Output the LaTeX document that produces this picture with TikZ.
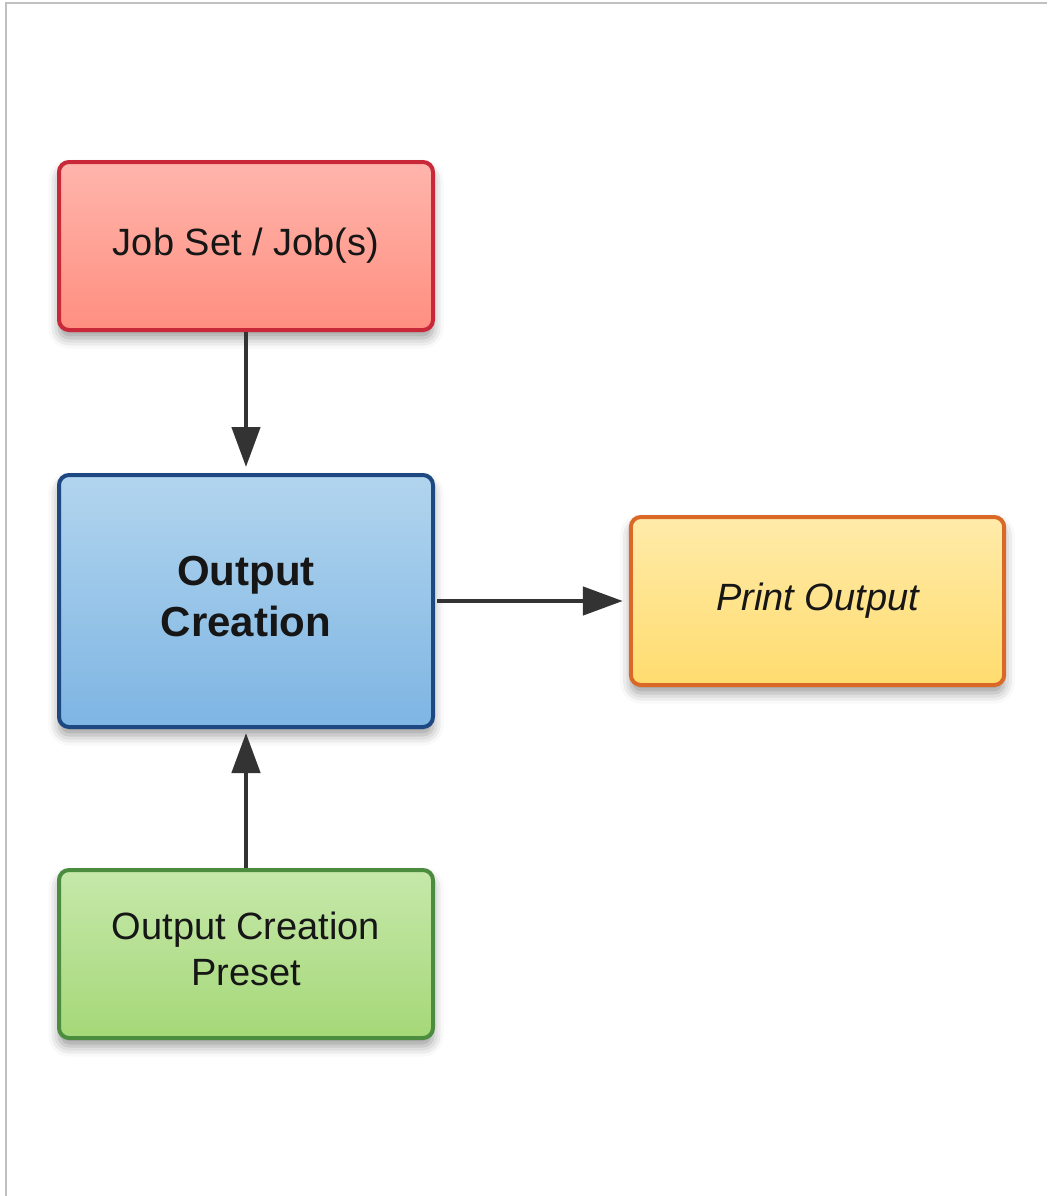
\documentclass[tikz,border=0pt]{standalone}
\usepackage{fontspec}
\setmainfont{Liberation Sans}
\usepackage{xcolor}
\usepackage{tikz}
\usetikzlibrary{arrows.meta,shadows.blur}

\definecolor{jobtop}{RGB}{255,181,172}
\definecolor{jobbot}{RGB}{255,143,128}
\definecolor{jobline}{RGB}{200,40,56}
\definecolor{cretop}{RGB}{178,213,238}
\definecolor{crebot}{RGB}{126,181,227}
\definecolor{creline}{RGB}{30,72,130}
\definecolor{prntop}{RGB}{255,235,170}
\definecolor{prnbot}{RGB}{255,220,110}
\definecolor{prnline}{RGB}{218,105,40}
\definecolor{pretop}{RGB}{198,232,170}
\definecolor{prebot}{RGB}{165,216,120}
\definecolor{preline}{RGB}{76,140,63}
\definecolor{arrgray}{RGB}{51,51,51}
\definecolor{txtgray}{RGB}{22,22,22}
\definecolor{framegray}{RGB}{192,192,192}

\begin{document}
\begin{tikzpicture}[x=0.75pt,y=0.75pt,yscale=-1,xscale=1,
  box/.style={rounded corners=7.5pt, line width=3pt, minimum width=280.5pt, minimum height=126pt,
    align=center, text=txtgray, font=\fontsize{28.5}{34}\selectfont,
    blur shadow={shadow xshift=0pt, shadow yshift=-6pt, shadow blur radius=8pt, shadow opacity=40}},
  conn/.style={line width=3.5pt, draw=arrgray, -{Triangle[length=30pt,width=21pt]}}]
  \useasboundingbox (0,0) rectangle (1047,1196);

  %Frame lines
  \draw [color=framegray, line width=1.5pt] (5.5,1196) -- (5.5,3) -- (1047,3) ;

  %Shape: Job box
  \node [box, draw=jobline, top color=jobtop, bottom color=jobbot] (jobset) at (246,246) {Job Set / Job(s)};
  %Shape: Creation box
  \node [box, draw=creline, top color=cretop, bottom color=crebot, minimum height=189pt,
    text height=52.5pt, text depth=0pt,
    font=\fontsize{31.5}{38}\selectfont\bfseries] (creation) at (246,601) {Output\\Creation};
  %Shape: Print box
  \node [box, draw=prnline, top color=prntop, bottom color=prnbot, minimum width=280pt,
    font=\fontsize{28.5}{34}\selectfont\itshape] (print) at (817.5,601) {Print Output};
  %Shape: Preset box
  \node [box, draw=preline, top color=pretop, bottom color=prebot,
    text height=46.5pt, text depth=0pt] (preset) at (246,954) {Output Creation\\Preset};

  %Arrows
  \draw [conn, shorten >=4.5pt] (jobset.south) -- (creation.north) ;
  \draw [conn, shorten >=4.5pt, shorten <=1.5pt] (creation.east) -- (print.west) ;
  \draw [conn, shorten >=3pt] (preset.north) -- (creation.south) ;
\end{tikzpicture}
\end{document}
